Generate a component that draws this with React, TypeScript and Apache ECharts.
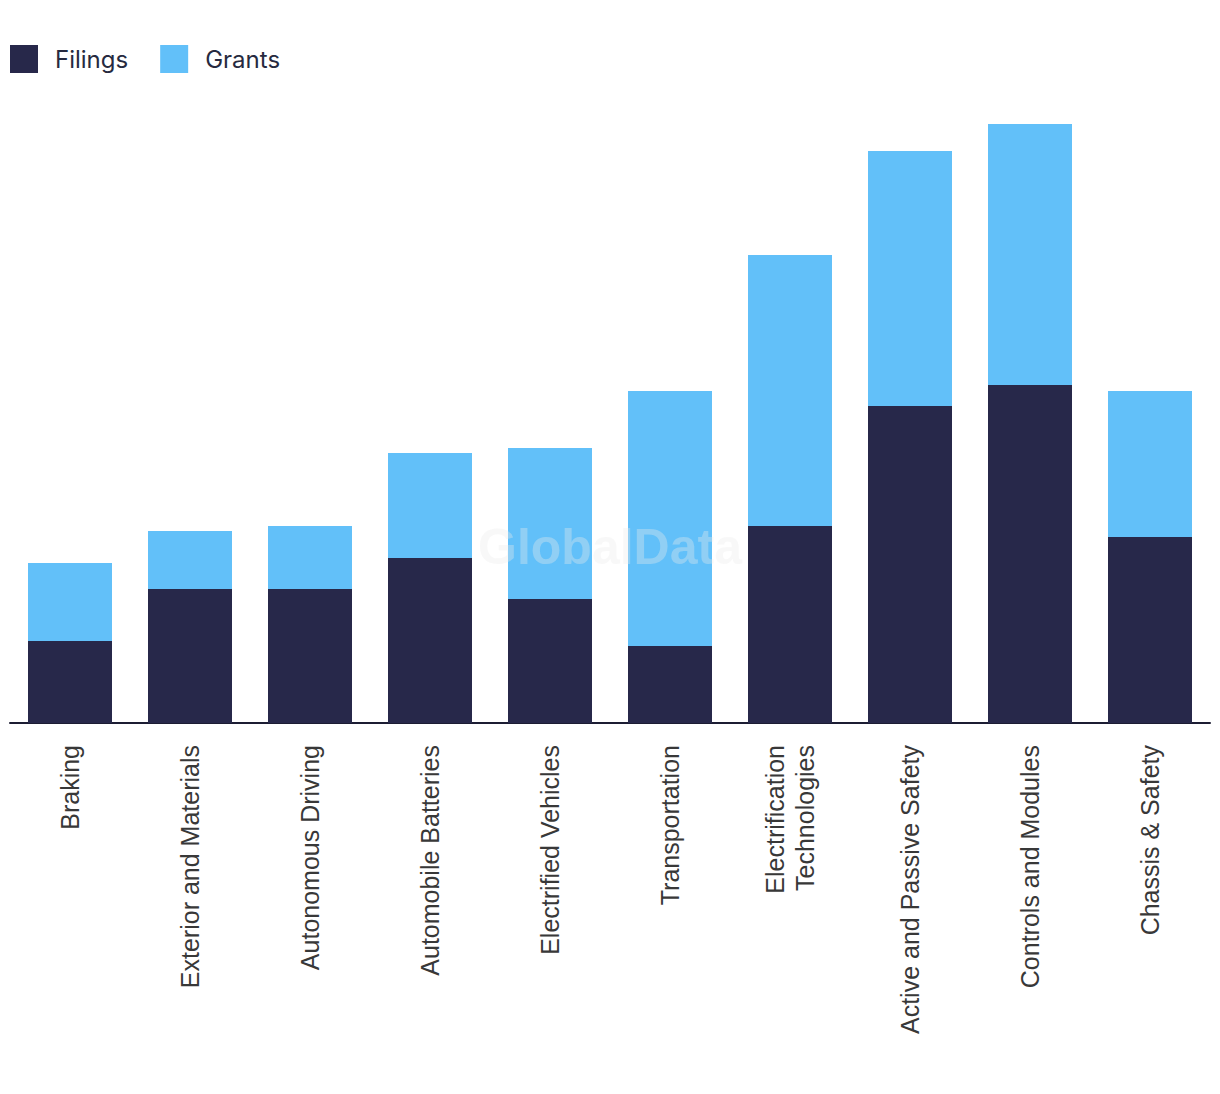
import React, { useEffect, useRef } from "react";
import * as echarts from "echarts";

const categories = [
  "Braking",
  "Exterior and Materials",
  "Autonomous Driving",
  "Automobile Batteries",
  "Electrified Vehicles",
  "Transportation",
  "Electrification\nTechnologies",
  "Active and Passive Safety",
  "Controls and Modules",
  "Chassis & Safety",
];
const filings = [82, 134, 134, 165, 124, 77, 197, 317, 338, 186];
const grants = [78, 58, 63, 105, 151, 255, 271, 255, 261, 146];

const FILINGS_COLOR = "#27284a";
const GRANTS_COLOR = "#62c0f9";

export default function App() {
  const ref = useRef<HTMLDivElement>(null);
  useEffect(() => {
    document.body.style.margin = "0";
    if (!ref.current) return;
    const chart = echarts.init(ref.current, null, { renderer: "svg" });
    chart.setOption({
      animation: false,
      legend: {
        left: 5,
        top: 40,
        itemWidth: 28,
        itemHeight: 28,
        itemGap: 32,
        icon: "rect",
        textStyle: {
          fontFamily: "Inter",
          fontSize: 24,
          color: "#262a40",
          padding: [0, 0, 0, 12],
        },
        data: ["Filings", "Grants"],
      },
      grid: { left: 10, right: 10, top: 123, bottom: 371, containLabel: false },
      xAxis: {
        type: "category",
        data: categories,
        axisLine: { show: true, lineStyle: { color: "#1c1d33", width: 2 } },
        axisTick: { show: false },
        axisLabel: {
          rotate: 90,
          interval: 0,
          margin: 22,
          fontFamily: "Liberation Sans",
          fontSize: 25,
          color: "#383838",
          lineHeight: 30,
        },
      },
      yAxis: {
        type: "value",
        min: 0,
        max: 600,
        show: false,
        splitLine: { show: false },
      },
      graphic: [
        {
          type: "text",
          left: "center",
          top: 522,
          z: 100,
          silent: true,
          style: {
            text: "GlobalData",
            fontFamily: "Liberation Sans",
            fontWeight: "bold",
            fontSize: 50,
            fill: "rgba(235,235,235,0.35)",
          },
        },
      ],
      series: [
        {
          name: "Filings",
          type: "bar",
          stack: "total",
          barWidth: "70%",
          data: filings,
          itemStyle: { color: FILINGS_COLOR },
        },
        {
          name: "Grants",
          type: "bar",
          stack: "total",
          barWidth: "70%",
          data: grants,
          itemStyle: { color: GRANTS_COLOR },
        },
      ],
    });
    return () => chart.dispose();
  }, []);
  return <div ref={ref} style={{ width: 1220, height: 1094 }} />;
}
